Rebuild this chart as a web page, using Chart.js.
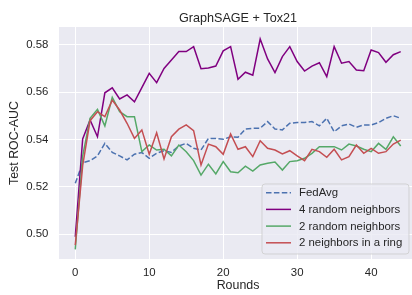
<!DOCTYPE html>
<html><head><meta charset="utf-8">
<script src="https://cdn.jsdelivr.net/npm/chart.js@4"></script>
<style>
html,body{margin:0;padding:0;overflow:hidden;background:#fff;width:412px;height:295px}
#wrap{position:absolute;left:0;top:0;width:420px;height:295px}
</style>
</head><body><div id="wrap"><canvas id="c" width="420" height="295"></canvas></div>
<script>
const chartTitle = "GraphSAGE + Tox21";
const xTitle = "Rounds";
const yTitle = "Test ROC-AUC";
const rounds = [0,1,2,3,4,5,6,7,8,9,10,11,12,13,14,15,16,17,18,19,20,21,22,23,24,25,26,27,28,29,30,31,32,33,34,35,36,37,38,39,40,41,42,43,44];
const xTicks = [0,10,20,30,40];
const yTicks = [0.50,0.52,0.54,0.56,0.58];
const seriesLabels = ["FedAvg","4 random neighbors","2 random neighbors","2 neighbors in a ring"];
const fedAvg  = [0.5215,0.5302,0.5311,0.5331,0.5384,0.5346,0.5331,0.5314,0.5338,0.5345,0.5321,0.5342,0.5353,0.5346,0.5373,0.5384,0.5363,0.5356,0.5405,0.5405,0.5401,0.5412,0.5410,0.5445,0.5448,0.5448,0.5476,0.5445,0.5441,0.5469,0.5472,0.5472,0.5476,0.5458,0.5490,0.5433,0.5458,0.5466,0.5452,0.5462,0.5462,0.5472,0.5490,0.5501,0.5490];
const random4 = [0.4989,0.5403,0.5483,0.5412,0.5598,0.5619,0.5572,0.5589,0.5560,0.5620,0.5680,0.5641,0.5701,0.5737,0.5772,0.5772,0.5793,0.5700,0.5703,0.5711,0.5775,0.5793,0.5655,0.5685,0.5672,0.5825,0.5741,0.5683,0.5751,0.5793,0.5730,0.5690,0.5711,0.5725,0.5666,0.5793,0.5723,0.5730,0.5694,0.5691,0.5779,0.5768,0.5727,0.5759,0.5772];
const random2 = [0.4936,0.5330,0.5490,0.5528,0.5458,0.5579,0.5518,0.5497,0.5497,0.5349,0.5377,0.5356,0.5359,0.5331,0.5377,0.5349,0.5311,0.5250,0.5296,0.5255,0.5307,0.5264,0.5260,0.5288,0.5267,0.5293,0.5300,0.5305,0.5271,0.5307,0.5311,0.5321,0.5342,0.5370,0.5370,0.5370,0.5356,0.5381,0.5373,0.5359,0.5349,0.5384,0.5359,0.5412,0.5373];
const ring2   = [0.4954,0.5290,0.5480,0.5518,0.5497,0.5567,0.5525,0.5469,0.5405,0.5441,0.5338,0.5429,0.5318,0.5412,0.5444,0.5462,0.5438,0.5293,0.5381,0.5370,0.5338,0.5424,0.5359,0.5370,0.5328,0.5395,0.5363,0.5356,0.5339,0.5353,0.5331,0.5311,0.5359,0.5349,0.5325,0.5359,0.5314,0.5328,0.5377,0.5342,0.5363,0.5342,0.5349,0.5381,0.5398];

const colors = ["#4C72B0","#800080","#55A868","#C44E52"];
const dashes = [[5.5,2.4],[],[],[]];
const seriesValues = [fedAvg, random4, random2, ring2];
const FONT = '"Liberation Sans", Arial, sans-serif';
const TEXT = '#262626';

const datasets = seriesValues.map((vals, k) => ({
  label: seriesLabels[k],
  data: rounds.map((r, i) => ({x: r, y: vals[i]})),
  borderColor: colors[k],
  borderWidth: 1.5,
  borderDash: dashes[k],
  pointRadius: 0,
  tension: 0,
  fill: false,
  order: 3 - k
}));

const bgPlugin = {
  id: 'bg',
  beforeDraw(chart) {
    const {ctx, chartArea: a} = chart;
    ctx.save();
    ctx.fillStyle = '#EAEAF2';
    ctx.fillRect(a.left, a.top, a.right - a.left, a.bottom - a.top);
    ctx.restore();
  }
};
const titlePlugin = {
  id: 'ttl',
  afterDraw(chart) {
    const {ctx, chartArea: a} = chart;
    ctx.save();
    ctx.font = '12.6px ' + FONT;
    ctx.fillStyle = TEXT;
    ctx.textAlign = 'center';
    ctx.textBaseline = 'alphabetic';
    ctx.fillText(chartTitle, (a.left + a.right) / 2, 22.4);
    ctx.restore();
  }
};
const legendPlugin = {
  id: 'lg',
  afterDatasetsDraw(chart) {
    const {ctx} = chart;
    const bx = 262, by = 184, bw = 147, bh = 70, r = 3;
    ctx.save();
    ctx.beginPath();
    ctx.moveTo(bx + r, by);
    ctx.arcTo(bx + bw, by, bx + bw, by + bh, r);
    ctx.arcTo(bx + bw, by + bh, bx, by + bh, r);
    ctx.arcTo(bx, by + bh, bx, by, r);
    ctx.arcTo(bx, by, bx + bw, by, r);
    ctx.closePath();
    ctx.fillStyle = 'rgba(234,234,242,0.8)';
    ctx.fill();
    ctx.strokeStyle = 'rgba(204,204,204,0.8)';
    ctx.lineWidth = 1;
    ctx.stroke();
    ctx.font = '11.4px ' + FONT;
    ctx.textBaseline = 'middle';
    ctx.textAlign = 'left';
    chart.data.datasets.forEach((ds, k) => {
      const y = 192.7 + 16.7 * k;
      ctx.beginPath();
      ctx.setLineDash(ds.borderDash || []);
      ctx.strokeStyle = ds.borderColor;
      ctx.lineWidth = 1.5;
      ctx.moveTo(266, y);
      ctx.lineTo(291, y);
      ctx.stroke();
      ctx.setLineDash([]);
      ctx.fillStyle = TEXT;
      ctx.fillText(ds.label, 299, y + 0.5);
    });
    ctx.restore();
  }
};

new Chart(document.getElementById('c'), {
  type: 'line',
  data: {datasets},
  options: {
    responsive: false,
    animation: false,
    devicePixelRatio: 1,
    layout: {padding: {top: 27, right: 3, left: 0, bottom: 0}},
    plugins: {legend: {display: false}, tooltip: {enabled: false}, title: {display: false}},
    scales: {
      x: {
        type: 'linear',
        min: -2.2, max: 46.2,
        afterFit(s) { s.height = 36; },
        afterBuildTicks(s) { s.ticks = xTicks.map(v => ({value: v})); },
        grid: {color: '#ffffff', lineWidth: 1, drawTicks: false},
        border: {display: false},
        ticks: {color: TEXT, font: {family: FONT, size: 11.4}, padding: 7, maxRotation: 0, autoSkip: false},
        title: {display: true, text: xTitle, color: TEXT, font: {family: FONT, size: 12.4, lineHeight: 1.2}, padding: {top: 0, bottom: 2}}
      },
      y: {
        type: 'linear',
        min: 0.48951, max: 0.58761,
        afterFit(s) { s.width = 59; },
        afterBuildTicks(s) { s.ticks = yTicks.map(v => ({value: v})); },
        grid: {color: '#ffffff', lineWidth: 1, drawTicks: false},
        border: {display: false},
        ticks: {color: TEXT, font: {family: FONT, size: 11.4}, padding: 10.7, autoSkip: false, callback: v => v.toFixed(2)},
        title: {display: true, text: yTitle, color: TEXT, font: {family: FONT, size: 12.4, lineHeight: 1.2}, padding: {top: 7.5, bottom: 0}}
      }
    }
  },
  plugins: [bgPlugin, legendPlugin, titlePlugin]
});
</script>
</body></html>
